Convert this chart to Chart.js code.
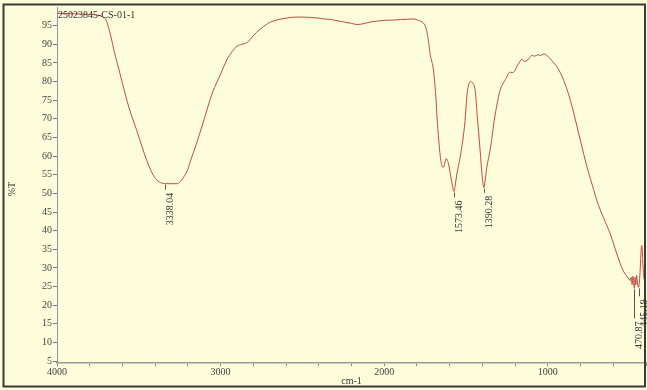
<!DOCTYPE html>
<html>
<head>
<meta charset="utf-8">
<script src="https://cdn.jsdelivr.net/npm/chart.js"></script>
<style>
  html, body { margin: 0; padding: 0; background: #ffffff; }
  #wrap { width: 647px; height: 390px; }
</style>
</head>
<body>
<div id="wrap"><canvas id="irChart" width="647" height="390"></canvas></div>
<script>
// spectrum (wavenumber cm-1, %T)
const wavenumbers = [
  4000, 3900, 3800, 3750, 3720, 3700, 3685, 3670, 3650, 3620, 3600, 3560, 3512, 3480, 3451, 3420, 3390, 3360, 3338, 3300,
  3268, 3245, 3227, 3200, 3186, 3150, 3100, 3050, 3000, 2962, 2930, 2900, 2870, 2840, 2820, 2800, 2760, 2720, 2697, 2650,
  2600, 2575, 2500, 2450, 2400, 2372, 2330, 2300, 2250, 2200, 2167, 2130, 2100, 2080, 2045, 2000, 1950, 1900, 1860, 1821,
  1790, 1770, 1750, 1740, 1730, 1720, 1710, 1701, 1690, 1683, 1676, 1669, 1660, 1648, 1638, 1630, 1622, 1615, 1607, 1595,
  1585, 1577, 1573, 1565, 1556, 1536, 1520, 1506, 1495, 1485, 1471, 1458, 1444, 1430, 1424, 1414, 1400, 1394, 1390, 1383,
  1373, 1353, 1340, 1328, 1310, 1292, 1260, 1230, 1215, 1200, 1190, 1175, 1159, 1145, 1128, 1110, 1098, 1080, 1060, 1047,
  1035, 1023, 1000, 976, 950, 925, 900, 874, 850, 833, 800, 760, 720, 700, 660, 619, 580, 540, 520, 505,
  497, 490, 485, 480, 475, 471, 467, 462, 457, 452, 448, 445, 440, 435, 430, 427, 423, 418, 412, 405, 400
];
const transmittance = [
  98.3, 98.2, 98.0, 97.8, 97.3, 96.5, 94.5, 92.0, 88.0, 83.0, 79.5, 73.0, 66.8, 62.5, 58.8, 55.6, 53.6, 52.8, 52.6, 52.6,
  52.6, 53.2, 54.3, 56.5, 58.5, 63.0, 70.0, 77.0, 82.0, 85.8, 88.0, 89.5, 90.0, 90.4, 91.2, 92.3, 94.0, 95.3, 95.9, 96.6,
  97.0, 97.2, 97.3, 97.2, 97.0, 96.8, 96.7, 96.4, 96.0, 95.6, 95.3, 95.5, 95.8, 96.0, 96.2, 96.4, 96.5, 96.6, 96.7, 96.8,
  96.4, 96.0, 95.0, 93.5, 91.0, 87.5, 85.5, 83.8, 79.0, 75.0, 69.5, 65.5, 61.0, 57.5, 57.0, 58.0, 59.3, 59.0, 57.9, 55.0,
  52.5, 50.8, 50.5, 52.5, 55.2, 59.7, 64.2, 69.5, 76.0, 79.0, 80.0, 79.5, 77.6, 70.0, 67.0, 61.5, 54.0, 52.0, 51.5, 53.5,
  57.0, 61.5, 65.5, 69.5, 74.0, 77.6, 80.5, 82.5, 82.4, 83.0, 84.0, 85.0, 86.0, 85.4, 85.6, 86.5, 87.0, 86.8, 87.2, 87.0,
  87.2, 87.4, 86.8, 85.6, 84.3, 82.5, 80.0, 76.7, 73.0, 70.0, 64.0, 57.0, 51.0, 48.0, 43.5, 39.2, 34.0, 29.3, 28.0, 27.0,
  26.6, 27.5, 25.5, 27.8, 25.8, 24.5, 27.5, 25.5, 28.0, 26.0, 25.0, 24.8, 26.5, 30.0, 34.5, 36.0, 35.0, 30.5, 27.0, 28.5, 29.0
];
const peakWn = [3338.04, 1573.46, 1390.28, 470.87, 445.19];
const peakT = [52.6, 50.5, 51.5, 24.5, 24.8];
const xTicks = [4000, 3800, 3600, 3400, 3200, 3000, 2800, 2600, 2400, 2200, 2000, 1800, 1600, 1400, 1200, 1000, 800, 600, 400];
const yTicks = [5, 10, 15, 20, 25, 30, 35, 40, 45, 50, 55, 60, 65, 70, 75, 80, 85, 90, 95];

const sampleName = '25023845-CS-01-1';
const serif = '"Liberation Serif", "DejaVu Serif", serif';
// how far below each peak its label starts (px)
const peakGap = [6, 6, 5, 30, 9];

const points = wavenumbers.map((w, i) => ({ x: w, y: transmittance[i] }));

const frameAndText = {
  id: 'frameAndText',
  beforeDraw(chart) {
    const ctx = chart.ctx;
    ctx.save();
    ctx.fillStyle = '#fdfddb';
    ctx.fillRect(0, 0, chart.width, chart.height);
    ctx.restore();
  },
  afterDraw(chart) {
    const { ctx, chartArea, scales: { x, y } } = chart;
    ctx.save();
    // peak markers
    ctx.font = '10px ' + serif;
    ctx.fillStyle = '#333';
    ctx.strokeStyle = '#555';
    ctx.lineWidth = 1;
    peakWn.forEach((wn, i) => {
      const px = Math.round(x.getPixelForValue(wn)) + 0.5;
      const py = y.getPixelForValue(peakT[i]);
      const end = py + peakGap[i];
      ctx.beginPath();
      ctx.moveTo(px, py + 1);
      ctx.lineTo(px, end);
      ctx.stroke();
      ctx.save();
      ctx.translate(px, end + 3);
      ctx.rotate(-Math.PI / 2);
      ctx.textAlign = 'right';
      ctx.textBaseline = 'middle';
      ctx.fillText(wn.toFixed(2), 0, 5);
      ctx.restore();
    });
    // sample name
    ctx.textAlign = 'left';
    ctx.textBaseline = 'middle';
    ctx.fillText(sampleName, chartArea.left + 1, 15);
    // axis titles
    ctx.textAlign = 'center';
    ctx.fillText('cm-1', (chartArea.left + chartArea.right) / 2, 381);
    ctx.save();
    ctx.translate(12.5, 189);
    ctx.rotate(-Math.PI / 2);
    ctx.fillText('%T', 0, 0);
    ctx.restore();
    // outer frame
    ctx.strokeStyle = '#3a3a3a';
    ctx.lineWidth = 2;
    ctx.strokeRect(3.5, 4.5, 641.5, 382);
    ctx.restore();
  }
};

new Chart(document.getElementById('irChart'), {
  type: 'line',
  data: {
    datasets: [{
      data: points,
      borderColor: '#c24a40',
      borderWidth: 1,
      pointRadius: 0,
      cubicInterpolationMode: 'monotone'
    }]
  },
  options: {
    responsive: false,
    animation: false,
    layout: { padding: { left: 0, top: 6, right: 1, bottom: 0 } },
    plugins: { legend: { display: false }, tooltip: { enabled: false } },
    scales: {
      x: {
        type: 'linear',
        reverse: true,
        min: 400,
        max: 4000,
        afterBuildTicks(s) { s.ticks = xTicks.map(v => ({ value: v })); },
        afterFit(s) { s.height = 27; },
        ticks: {
          autoSkip: false,
          maxRotation: 0,
          padding: 0,
          color: '#444',
          font: { family: serif, size: 10 },
          callback: v => (v % 1000 === 0 && v < 4000.5 && v > 400) ? String(v) : ''
        },
        grid: { drawOnChartArea: false, tickLength: 3, color: '#888' },
        border: { color: '#9a9a9a', width: 1.5 }
      },
      y: {
        min: 4.5,
        max: 100,
        afterBuildTicks(s) { s.ticks = yTicks.map(v => ({ value: v })); },
        afterFit(s) { s.width = 57; },
        ticks: {
          padding: 1,
          color: '#444',
          font: { family: serif, size: 10 }
        },
        grid: { drawOnChartArea: false, tickLength: 4, color: '#777' },
        border: { color: '#8a93b8', dash: [1, 2], width: 1 }
      }
    }
  },
  plugins: [frameAndText]
});
</script>
</body>
</html>
